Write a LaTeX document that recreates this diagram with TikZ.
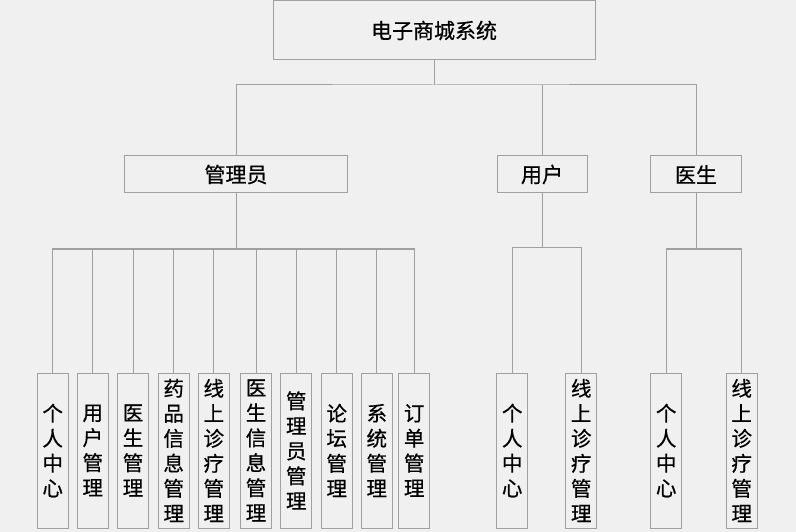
\documentclass[tikz,border=0pt]{standalone}
\usepackage{fontspec}
\newfontfamily\cjk[FakeBold=0.6]{Noto Sans CJK SC}
\definecolor{bg}{HTML}{F0F0F0}
\definecolor{ln}{HTML}{A0A0A0}
\tikzset{
  topbox/.style={draw=ln, line width=1pt, rectangle, inner sep=0pt, font=\cjk\fontsize{21}{24}\selectfont, text=black},
  leafbox/.style={draw=ln, line width=1pt, rectangle, inner sep=0pt, minimum width=31pt, minimum height=155pt, align=center, font=\cjk\fontsize{20.5}{25}\selectfont, text=black},
  conn/.style={draw=ln, line width=1pt}
}
\begin{document}
\begin{tikzpicture}[x=1pt,y=-1pt]
\fill[bg] (0,0) rectangle (796,532);
\useasboundingbox (0,0) rectangle (796,532);
% top levels
\node[topbox, minimum width=322pt, minimum height=59pt] (root) at (434,30.5) {电子商城系统};
\node[topbox, minimum width=223pt, minimum height=37pt] (adm) at (236,174.5) {管理员};
\node[topbox, minimum width=90pt, minimum height=37pt] (usr) at (542,174.5) {用户};
\node[topbox, minimum width=91pt, minimum height=37pt] (doc) at (696,174.5) {医生};
\coordinate (b1) at (434,85);
\draw[conn] (root.south) -- (b1);
\draw[conn] (adm.north) |- (b1) -| (doc.north);
\draw[conn] (usr.north) -- (usr.north |- b1);
% admin leaves
\node[leafbox] (a1) at (52.7,450.5) {个\\人\\中\\心};
\node[leafbox] (a2) at (92.8,450.5) {用\\户\\管\\理};
\node[leafbox] (a3) at (133,450.5) {医\\生\\管\\理};
\node[leafbox] (a4) at (173.7,450.5) {药\\品\\信\\息\\管\\理};
\node[leafbox] (a5) at (213.8,450.5) {线\\上\\诊\\疗\\管\\理};
\node[leafbox] (a6) at (256,450.5) {医\\生\\信\\息\\管\\理};
\node[leafbox] (a7) at (296.2,450.5) {管\\理\\员\\管\\理};
\node[leafbox] (a8) at (336.7,450.5) {论\\坛\\管\\理};
\node[leafbox] (a9) at (376.8,450.5) {系\\统\\管\\理};
\node[leafbox] (a10) at (414.2,450.5) {订\\单\\管\\理};
\coordinate (b2) at (236,249);
\draw[conn] (adm.south) -- (b2);
\draw[conn] (a1.north) |- (b2) -| (a10.north);
\foreach \i in {2,...,9} { \draw[conn] (a\i.north) -- (a\i.north |- b2); }
% user leaves
\node[leafbox] (u1) at (512.2,450.5) {个\\人\\中\\心};
\node[leafbox] (u2) at (581.2,450.5) {线\\上\\诊\\疗\\管\\理};
\coordinate (b3) at (542,247.5);
\draw[conn] (usr.south) -- (b3);
\draw[conn] (u1.north) |- (b3) -| (u2.north);
% doctor leaves
\node[leafbox] (d1) at (666.2,450.5) {个\\人\\中\\心};
\node[leafbox] (d2) at (741.7,450.5) {线\\上\\诊\\疗\\管\\理};
\coordinate (b4) at (696,249);
\draw[conn] (doc.south) -- (b4);
\draw[conn] (d1.north) |- (b4) -| (d2.north);
\end{tikzpicture}
\end{document}
